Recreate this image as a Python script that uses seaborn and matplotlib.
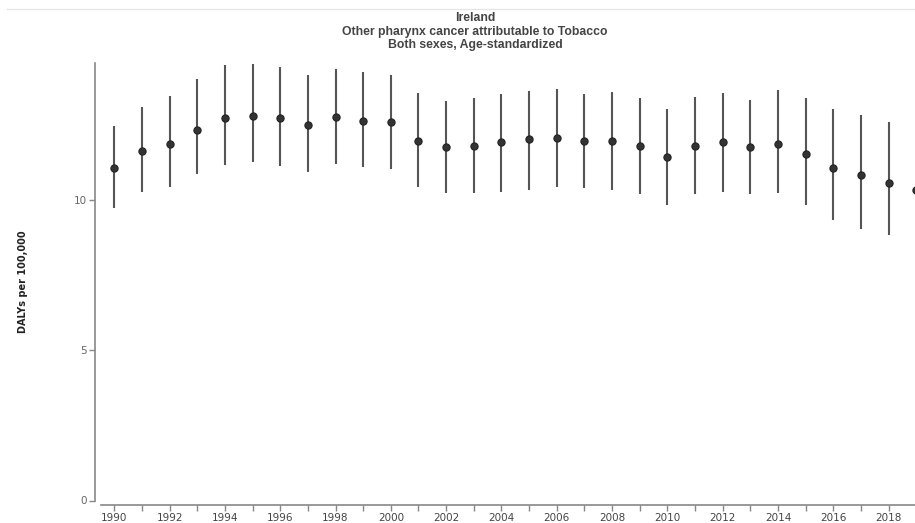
import numpy as np
import pandas as pd
import matplotlib
matplotlib.use('Agg')
import matplotlib.pyplot as plt
import seaborn as sns
from matplotlib.lines import Line2D
from matplotlib.ticker import MultipleLocator

# dane
years = list(range(1990, 2020))
mean = [11.05, 11.63, 11.85, 12.33, 12.71, 12.80, 12.71, 12.50, 12.75, 12.63,
        12.58, 11.95, 11.77, 11.80, 11.92, 12.03, 12.07, 11.97, 11.94, 11.79,
        11.43, 11.80, 11.92, 11.76, 11.87, 11.54, 11.07, 10.81, 10.55, 10.33]
upper = [12.44, 13.10, 13.46, 14.01, 14.49, 14.52, 14.43, 14.16, 14.35, 14.25,
         14.16, 13.55, 13.30, 13.40, 13.52, 13.63, 13.67, 13.51, 13.57, 13.38,
         13.01, 13.41, 13.55, 13.32, 13.66, 13.37, 13.01, 12.82, 12.60, 12.45]
lower = [9.72, 10.25, 10.44, 10.85, 11.16, 11.27, 11.14, 10.91, 11.18, 11.08,
         11.02, 10.42, 10.22, 10.22, 10.25, 10.32, 10.41, 10.39, 10.31, 10.20,
         9.83, 10.19, 10.27, 10.20, 10.21, 9.83, 9.32, 9.03, 8.83, 8.60]
title_lines = ['Ireland', 'Other pharynx cancer attributable to Tobacco',
               'Both sexes, Age-standardized']
y_label = 'DALYs per 100,000'

df = pd.DataFrame({'year': years, 'val': mean, 'lo': lower, 'hi': upper})

sns.set_style('white')
plt.rcParams['font.family'] = ['DejaVu Sans']

W, H = 915, 523
fig = plt.figure(figsize=(W / 100, H / 100), dpi=100)
ax = fig.add_axes([101 / W, (H - 500.5) / H, (W - 101) / W, (500.5 - 63) / H])

# przedzialy niepewnosci
ax.vlines(df.year, df.lo, df.hi, color='#555555', linewidth=1.5, zorder=2)
sns.scatterplot(data=df, x='year', y='val', ax=ax, s=27, color='#333333',
                edgecolor='#222222', linewidth=0.8, zorder=3, legend=False)

ax.set_xlim(1989.52, 2018.955)
ax.set_ylim(0, 14.55)

ax.xaxis.set_major_locator(MultipleLocator(2))
ax.xaxis.set_minor_locator(MultipleLocator(1))
ax.set_yticks([0, 5, 10])

for s in ['top', 'right']:
    ax.spines[s].set_visible(False)
ax.spines['left'].set_position(('outward', 4))
ax.spines['bottom'].set_position(('outward', 3))
for s in ['left', 'bottom']:
    ax.spines[s].set_color('#888888')
    ax.spines[s].set_linewidth(1.2)

ax.tick_params(axis='x', which='both', bottom=True, direction='out', length=4, width=1,
               color='#888888', labelsize=7.5, labelcolor='#444444', pad=2)
ax.tick_params(axis='y', left=True, direction='out', length=4, width=1, color='#888888',
               labelsize=7.5, labelcolor='#666666', pad=2)
ax.tick_params(axis='x', which='minor', labelbottom=False)

ax.set_xlabel('')
ax.set_ylabel(y_label, fontsize=7, fontweight='bold', color='#222222', labelpad=33)

# tytul - trzy linie
for txt, ypx in zip(title_lines, [18, 32, 45]):
    fig.text(475 / W, 1 - ypx / H, txt, ha='center', va='center',
             fontsize=8.8, fontweight='bold', color='#444444',
             family=['Liberation Sans', 'DejaVu Sans'])

# cienka linia na gorze
fig.add_artist(Line2D([7 / W, 1], [1 - 9 / H, 1 - 9 / H], color='#e6e6e6', linewidth=1))

fig.savefig('out.png', dpi=100)
